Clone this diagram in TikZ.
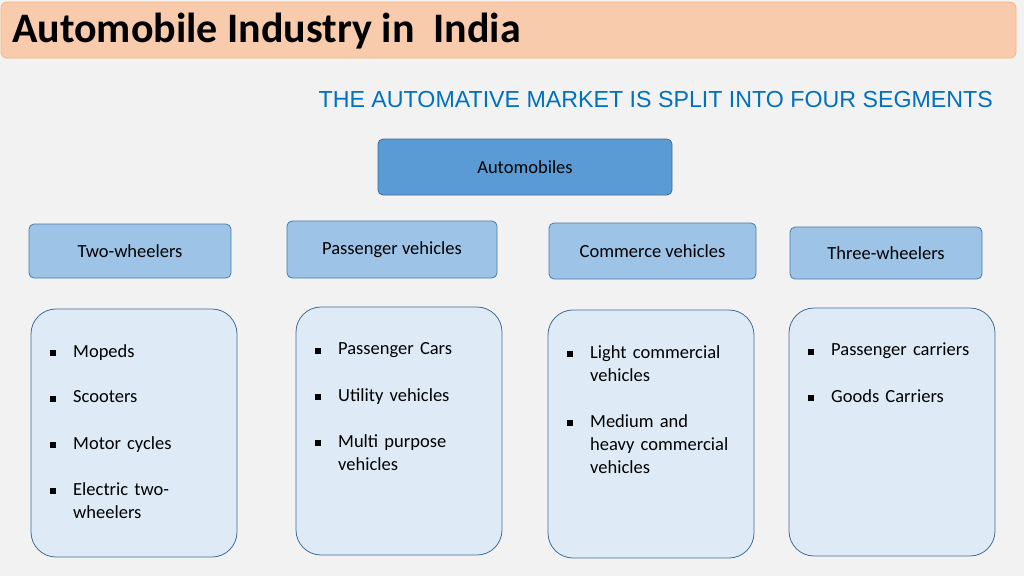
\documentclass[tikz,border=0pt]{standalone}
\usepackage{fontspec}
\setmainfont{Carlito}
\newfontfamily\arialf{Liberation Sans}
\begin{document}
\begin{tikzpicture}[x=1pt,y=-1pt,
  mid/.style={draw=blue1!80!black, line width=0.8pt, rounded corners=5pt, fill=blue2},
  cont/.style={draw=blue1!70!black, line width=0.8pt, rounded corners=25pt, fill=blue3},
  lbl/.style={font=\fontsize{18.5}{22}\selectfont, text=black},
  itm/.style={font=\fontsize{18.5}{23}\selectfont, anchor=north west, align=left, text width=150pt, inner sep=0pt},
  bul/.style={fill=black, inner sep=0pt, minimum size=6pt, anchor=center, rectangle}]
\definecolor{bg}{HTML}{F2F2F2}
\definecolor{peach}{HTML}{F8CBAD}
\definecolor{blue1}{HTML}{5B9BD5}
\definecolor{blue2}{HTML}{9DC3E6}
\definecolor{blue3}{HTML}{DEEBF7}
\definecolor{subt}{HTML}{0070C0}
\fill[bg] (0,0) rectangle (1024,576);
\useasboundingbox (0,0) rectangle (1024,576);
\filldraw[fill=peach, draw=peach!70!orange, rounded corners=6pt, line width=0.8pt] (1,2) rectangle (1016,58);
\node[anchor=west, font=\bfseries\fontsize{42}{46}\selectfont, inner sep=0pt] (title) at (12,31) {Automobile Industry in\ \ India};
\node[anchor=east, font=\arialf\fontsize{23.2}{26}\selectfont, text=subt, inner sep=0pt] (sub) at (993,100) {THE AUTOMATIVE MARKET IS SPLIT INTO FOUR SEGMENTS};
\draw[mid, fill=blue1, draw=blue1!70!black] (378,139) rectangle node[lbl] (auto) {Automobiles} (672,195);
\draw[mid] (29,224) rectangle node[lbl] (tw) {Two-wheelers} (231,278);
\draw[mid] (287,221) rectangle node[lbl] (pv) {Passenger vehicles} (497,278);
\draw[mid] (549,223) rectangle node[lbl] (cv) {Commerce vehicles} (756,279);
\draw[mid] (790,227) rectangle node[lbl] (thw) {Three-wheelers} (982,279);
\draw[cont] (31,309) rectangle (237,557);
\draw[cont] (296,307) rectangle (502,555);
\draw[cont] (548,310) rectangle (754,558);
\draw[cont] (789,308) rectangle (995,556);
\foreach \y/\t [count=\i] in {344/Mopeds, 390/Scooters, 436/Motor cycles, 482/{Electric two-\\wheelers}}{
  \node[bul] (b1\i) at (53,\y+9) {};
  \node[itm] (t1\i) at (73,\y) {\t};}
\foreach \y/\t [count=\i] in {342/Passenger Cars, 388/Utility vehicles, 434/{Multi purpose\\vehicles}}{
  \node[bul] (b2\i) at (318,\y+9) {};
  \node[itm] (t2\i) at (338,\y) {\t};}
\foreach \y/\t [count=\i] in {345/{Light commercial\\vehicles}, 414/{Medium and\\heavy commercial\\vehicles}}{
  \node[bul] (b3\i) at (570,\y+9) {};
  \node[itm] (t3\i) at (590,\y) {\t};}
\foreach \y/\t [count=\i] in {343/Passenger carriers, 389/Goods Carriers}{
  \node[bul] (b4\i) at (811,\y+9) {};
  \node[itm] (t4\i) at (831,\y) {\t};}
\end{tikzpicture}
\end{document}
